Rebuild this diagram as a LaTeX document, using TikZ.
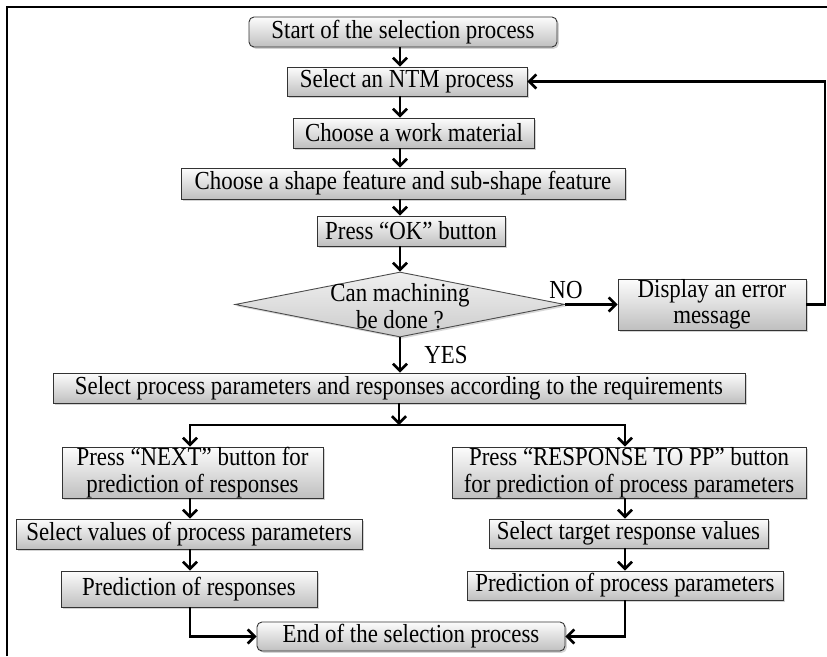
\documentclass[tikz,border=0pt]{standalone}
\usepackage{fontspec}
\setmainfont{Liberation Serif}[FakeStretch=0.88]
\usetikzlibrary{arrows.meta,shadows,shapes.geometric,calc}
\begin{document}
\begin{tikzpicture}[x=1pt,y=-1pt,
  box/.style={draw=black!80, line width=0.9pt, top color=gray!2, bottom color=gray!50,
    drop shadow={shadow xshift=1.8pt,shadow yshift=-1.8pt,opacity=0.35},
    inner sep=0pt, align=center, font=\fontsize{26}{26.5}\selectfont},
  rbox/.style={box, rounded corners=5pt},
  arr/.style={line width=2.6pt, -{Straight Barb[length=7pt,width=14pt]}},
  lbl/.style={font=\fontsize{26}{26.5}\selectfont, inner sep=0pt, align=center}
]
\useasboundingbox (0,0) rectangle (827,656);
\coordinate (fa) at (7,656);
\coordinate (fb) at (7,7);
\coordinate (fc) at (827,7);
\draw[line width=1.8pt] (fa) -- (fb) -- (fc);

\coordinate (col) at (400,0);

\node[rbox, minimum width=308pt, minimum height=30pt] (start) at (403,32) {Start of the selection process};
\node[box, minimum width=240pt, minimum height=29pt] (ntm) at (407,81.5) {Select an NTM process};
\node[box, minimum width=241pt, minimum height=30pt] (work) at (414,133) {Choose a work material};
\node[box, minimum width=444pt, minimum height=31pt] (shape) at (403,183.5) {Choose a shape feature and sub-shape feature};
\node[box, minimum width=188pt, minimum height=30pt] (ok) at (411,231) {Press “OK” button};
\node[diamond, draw=black!70, line width=0.9pt, top color=gray!12, bottom color=gray!40,
  drop shadow={shadow xshift=1.8pt,shadow yshift=-1.8pt,opacity=0.3},
  minimum width=330pt, minimum height=65pt, inner sep=0pt] (dec) at (400,304.5) {};
\node[lbl] (dectext) at (400,306) {Can machining\\be done ?};
\node[box, minimum width=188pt, minimum height=51pt] (err) at (712,304.5) {Display an error\\message};
\node[lbl] (no) at (566,290) {NO};
\node[lbl] (yes) at (446,355) {YES};
\node[box, minimum width=692pt, minimum height=30pt] (params) at (399,388) {Select process parameters and responses according to the requirements};

\node[box, minimum width=261pt, minimum height=51pt] (next) at (192.5,472.5) {Press “NEXT” button for\\prediction of responses};
\node[box, minimum width=354pt, minimum height=51pt] (pp) at (629,472.5) {Press “RESPONSE TO PP” button\\for prediction of process parameters};
\node[box, minimum width=346pt, minimum height=30pt] (values) at (189,534) {Select values of process parameters};
\node[box, minimum width=279pt, minimum height=29pt] (target) at (628.5,533.5) {Select target response values};
\node[box, minimum width=256pt, minimum height=36pt] (predresp) at (189,589) {Prediction of responses};
\node[box, minimum width=316pt, minimum height=29pt] (predpp) at (625,585.5) {Prediction of process parameters};
\node[rbox, minimum width=308pt, minimum height=29pt] (end) at (411,636.5) {End of the selection process};

\draw[arr] (start.south -| col) -- (ntm.north -| col);
\draw[arr] (ntm.south -| col) -- (work.north -| col);
\draw[arr] (work.south -| col) -- (shape.north -| col);
\draw[arr] (shape.south -| col) -- (ok.north -| col);
\draw[arr] (ok.south -| col) -- (dec.north);
\draw[arr] (dec.south) -- (params.north -| col);
\draw[arr] (dec.east) -- (err.west);
\coordinate (fbk) at (825,81.5);
\draw[arr] (err.east) -| (fbk) -- (ntm.east);

\coordinate (br) at (399,425);
\coordinate (lcol) at (190,0);
\coordinate (rcol) at (625,0);
\draw[arr] (params.south) -- (br);
\draw[arr] (br) -| (next.north -| lcol);
\draw[arr] (br) -| (pp.north -| rcol);
\draw[arr] (next.south -| lcol) -- (values.north -| lcol);
\draw[arr] (values.south -| lcol) -- (predresp.north -| lcol);
\draw[arr] (pp.south -| rcol) -- (target.north -| rcol);
\draw[arr] (target.south -| rcol) -- (predpp.north -| rcol);
\draw[arr] (predresp.south -| lcol) |- (end.west);
\draw[arr] (predpp.south -| rcol) |- (end.east);
\end{tikzpicture}
\end{document}
